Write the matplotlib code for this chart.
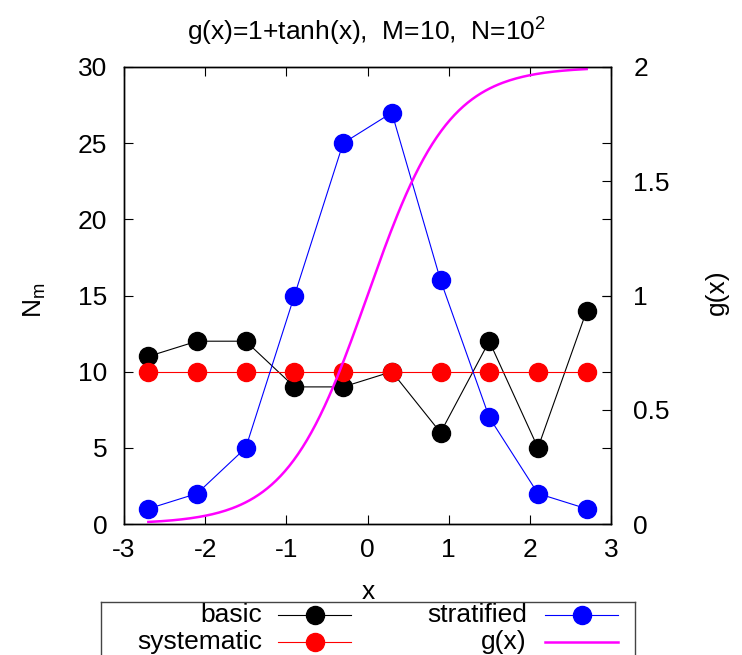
import numpy as np
import matplotlib.pyplot as plt
from matplotlib.lines import Line2D

plt.rcParams['font.family'] = ['Liberation Sans', 'DejaVu Sans']
plt.rcParams['mathtext.fontset'] = 'custom'
plt.rcParams['mathtext.rm'] = 'Liberation Sans'
plt.rcParams['mathtext.it'] = 'Liberation Sans'
plt.rcParams['axes.unicode_minus'] = False

# bin centres
x = [-2.7, -2.1, -1.5, -0.9, -0.3, 0.3, 0.9, 1.5, 2.1, 2.7]
basic = [11, 12, 12, 9, 9, 10, 6, 12, 5, 14]
systematic = [10, 10, 10, 10, 10, 10, 10, 10, 10, 10]
stratified = [1, 2, 5, 15, 25, 27, 16, 7, 2, 1]

# g(x) = 1 + tanh(x), as stated in the title
xg = np.linspace(-2.7, 2.7, 200)
g = 1 + np.tanh(xg)

W, H = 742, 655
fig = plt.figure(figsize=(W / 100, H / 100), dpi=100)
L, R, T, B = 124, 611, 67, 524
ax = fig.add_axes([L / W, 1 - B / H, (R - L) / W, (B - T) / H])
ax2 = ax.twinx()

ms = 13
ax.plot(x, basic, '-o', color='black', lw=0.8, ms=ms, zorder=3)
ax.plot(x, systematic, '-o', color='red', lw=0.8, ms=ms, zorder=3)
ax.plot(x, stratified, '-o', color='blue', lw=0.8, ms=ms, zorder=3)
ax2.plot(xg, g, color='magenta', lw=1.8)

ax.set_xlim(-3, 3)
ax.set_ylim(0, 30)
ax2.set_ylim(0, 2)
ax.set_xticks(range(-3, 4))
ax.set_yticks(range(0, 31, 5))
ax2.set_yticks([0, 0.5, 1, 1.5, 2])
ax2.set_yticklabels(['0', '0.5', '1', '1.5', '2'])

fs = 19
ax.tick_params(direction='in', length=6.5, width=0.8, labelsize=fs,
               top=True, right=True)
ax.tick_params(axis='x', pad=10)
ax.tick_params(axis='y', pad=12)
ax2.tick_params(direction='in', length=6.5, width=0.8, labelsize=fs, pad=16)
for a in (ax, ax2):
    for s in a.spines.values():
        s.set_linewidth(1.0)

# axis labels and title placed in pixel positions
fig.text(366 / W, 1 - 41 / H, r'g(x)=1+tanh(x),  M=10,  N=10$^2$',
         fontsize=fs, ha='center', va='baseline')
fig.text(368 / W, 1 - 599 / H, 'x', fontsize=fs, ha='center', va='baseline')
fig.text(35 / W, 1 - 300 / H, r'N$_\mathrm{m}$', fontsize=fs,
         rotation=90, ha='center', va='center')
fig.text(717 / W, 1 - 292 / H, 'g(x)', fontsize=fs,
         rotation=90, ha='center', va='center')

# legend box drawn in pixel coordinates below the plot
LT = 602
lg = fig.add_axes([101 / W, -0.05, (635 - 101) / W, 0.05 + 1 - LT / H])
lg.set_xlim(101, 635)
lg.set_ylim(H + 0.05 * H, LT)
lg.set_xticks([])
lg.set_yticks([])
for s in lg.spines.values():
    s.set_linewidth(1.0)
    s.set_color('#444444')

entries = [
    ('basic', 'black', 'o', 262, 278, 351, 615),
    ('systematic', 'red', 'o', 262, 278, 351, 642),
    ('stratified', 'blue', 'o', 527, 545, 618, 615),
    ('g(x)', 'magenta', None, 527, 545, 618, 642),
]
for label, c, m, tx, x0, x1, yy in entries:
    lg.text(tx, yy, label, ha='right', va='center', fontsize=fs)
    lw = 1.8 if m is None else 0.8
    lg.add_line(Line2D([x0, x1], [yy, yy], color=c, lw=lw))
    if m:
        lg.add_line(Line2D([(x0 + x1) / 2], [yy], color=c, marker=m, ms=ms))

fig.savefig('out.png', dpi=100)
